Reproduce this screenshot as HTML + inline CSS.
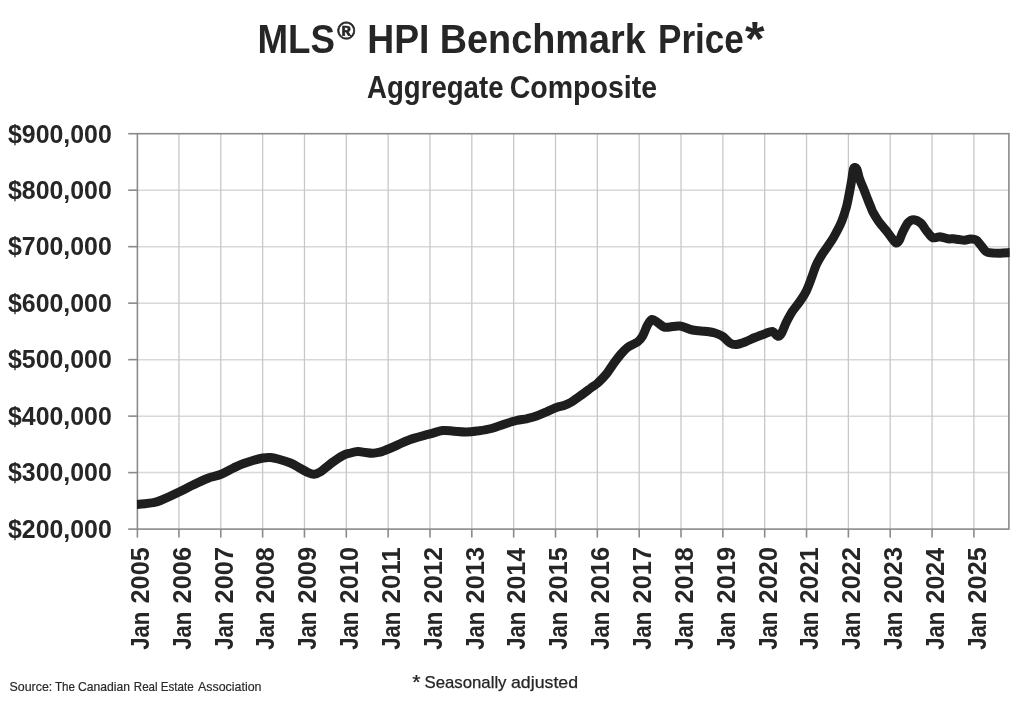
<!DOCTYPE html>
<html lang="en"><head><meta charset="utf-8"><title>MLS HPI Benchmark Price - Aggregate Composite</title>
<style>
html,body{margin:0;padding:0;background:#fff;}
body{width:1024px;height:701px;overflow:hidden;}
svg{display:block;}
text{font-family:"Liberation Sans", sans-serif;fill:#262626;}
.b{font-weight:700;}
</style></head><body>
<svg width="1024" height="701" viewBox="0 0 1024 701">
<rect width="1024" height="701" fill="#fff"/>
<g stroke="#d8d8d8" stroke-width="1.5"><line x1="137.4" y1="190.19" x2="1008.9" y2="190.19"/><line x1="137.4" y1="246.67" x2="1008.9" y2="246.67"/><line x1="137.4" y1="303.16" x2="1008.9" y2="303.16"/><line x1="137.4" y1="359.64" x2="1008.9" y2="359.64"/><line x1="137.4" y1="416.13" x2="1008.9" y2="416.13"/><line x1="137.4" y1="472.61" x2="1008.9" y2="472.61"/></g>
<g stroke="#c8c8c8" stroke-width="1.3"><line x1="178.94" y1="133.7" x2="178.94" y2="529.1"/><line x1="220.78" y1="133.7" x2="220.78" y2="529.1"/><line x1="262.62" y1="133.7" x2="262.62" y2="529.1"/><line x1="304.46" y1="133.7" x2="304.46" y2="529.1"/><line x1="346.30" y1="133.7" x2="346.30" y2="529.1"/><line x1="388.14" y1="133.7" x2="388.14" y2="529.1"/><line x1="429.98" y1="133.7" x2="429.98" y2="529.1"/><line x1="471.82" y1="133.7" x2="471.82" y2="529.1"/><line x1="513.66" y1="133.7" x2="513.66" y2="529.1"/><line x1="555.50" y1="133.7" x2="555.50" y2="529.1"/><line x1="597.34" y1="133.7" x2="597.34" y2="529.1"/><line x1="639.18" y1="133.7" x2="639.18" y2="529.1"/><line x1="681.02" y1="133.7" x2="681.02" y2="529.1"/><line x1="722.86" y1="133.7" x2="722.86" y2="529.1"/><line x1="764.70" y1="133.7" x2="764.70" y2="529.1"/><line x1="806.54" y1="133.7" x2="806.54" y2="529.1"/><line x1="848.38" y1="133.7" x2="848.38" y2="529.1"/><line x1="890.22" y1="133.7" x2="890.22" y2="529.1"/><line x1="932.06" y1="133.7" x2="932.06" y2="529.1"/><line x1="973.90" y1="133.7" x2="973.90" y2="529.1"/></g>
<g stroke="#8a8a8a" stroke-width="1.6"><rect x="137.4" y="133.7" width="871.50" height="395.40" fill="none"/><line x1="128.2" y1="133.70" x2="137.4" y2="133.70"/><line x1="128.2" y1="190.19" x2="137.4" y2="190.19"/><line x1="128.2" y1="246.67" x2="137.4" y2="246.67"/><line x1="128.2" y1="303.16" x2="137.4" y2="303.16"/><line x1="128.2" y1="359.64" x2="137.4" y2="359.64"/><line x1="128.2" y1="416.13" x2="137.4" y2="416.13"/><line x1="128.2" y1="472.61" x2="137.4" y2="472.61"/><line x1="128.2" y1="529.10" x2="137.4" y2="529.10"/><line x1="137.40" y1="529.1" x2="137.40" y2="537.6"/><line x1="178.94" y1="529.1" x2="178.94" y2="537.6"/><line x1="220.78" y1="529.1" x2="220.78" y2="537.6"/><line x1="262.62" y1="529.1" x2="262.62" y2="537.6"/><line x1="304.46" y1="529.1" x2="304.46" y2="537.6"/><line x1="346.30" y1="529.1" x2="346.30" y2="537.6"/><line x1="388.14" y1="529.1" x2="388.14" y2="537.6"/><line x1="429.98" y1="529.1" x2="429.98" y2="537.6"/><line x1="471.82" y1="529.1" x2="471.82" y2="537.6"/><line x1="513.66" y1="529.1" x2="513.66" y2="537.6"/><line x1="555.50" y1="529.1" x2="555.50" y2="537.6"/><line x1="597.34" y1="529.1" x2="597.34" y2="537.6"/><line x1="639.18" y1="529.1" x2="639.18" y2="537.6"/><line x1="681.02" y1="529.1" x2="681.02" y2="537.6"/><line x1="722.86" y1="529.1" x2="722.86" y2="537.6"/><line x1="764.70" y1="529.1" x2="764.70" y2="537.6"/><line x1="806.54" y1="529.1" x2="806.54" y2="537.6"/><line x1="848.38" y1="529.1" x2="848.38" y2="537.6"/><line x1="890.22" y1="529.1" x2="890.22" y2="537.6"/><line x1="932.06" y1="529.1" x2="932.06" y2="537.6"/><line x1="973.90" y1="529.1" x2="973.90" y2="537.6"/></g>
<clipPath id="c"><rect x="136.9" y="133.7" width="872.80" height="395.40"/></clipPath>
<path d="M136.5,504.5 C137.9,504.4 142.2,504.1 145.0,503.8 C147.8,503.5 150.4,503.2 153.0,502.7 C155.6,502.1 156.3,502.2 160.5,500.5 C164.7,498.8 172.6,495.1 178.0,492.5 C183.4,489.9 188.0,487.4 193.0,485.0 C198.0,482.6 203.4,480.0 208.0,478.2 C212.6,476.5 216.3,476.2 220.5,474.5 C224.7,472.8 229.2,470.0 233.0,468.2 C236.8,466.5 239.7,465.0 243.0,463.8 C246.3,462.5 249.7,461.5 253.0,460.5 C256.3,459.5 260.1,458.5 263.0,458.0 C265.9,457.5 268.0,457.3 270.5,457.5 C273.0,457.7 274.7,458.1 278.0,459.0 C281.3,459.9 287.2,461.7 290.5,463.0 C293.8,464.3 295.1,465.4 298.0,467.0 C300.9,468.6 305.3,471.3 308.0,472.5 C310.7,473.7 312.2,474.4 314.2,474.2 C316.3,474.1 317.4,473.8 320.5,471.8 C323.6,469.7 329.2,464.7 333.0,462.0 C336.8,459.3 340.1,457.0 343.0,455.5 C345.9,454.0 348.0,453.7 350.5,453.0 C353.0,452.3 355.5,451.6 358.0,451.5 C360.5,451.4 363.0,452.2 365.5,452.5 C368.0,452.8 370.5,453.3 373.0,453.2 C375.5,453.2 378.7,452.4 380.5,452.0 C382.3,451.6 381.3,451.8 384.0,450.8 C386.7,449.7 392.3,447.3 396.5,445.5 C400.7,443.7 403.6,441.9 409.0,440.0 C414.4,438.1 423.4,435.8 429.0,434.2 C434.6,432.7 438.6,431.0 442.8,430.5 C446.9,430.0 450.0,431.0 454.0,431.2 C458.0,431.5 462.3,432.1 466.5,432.0 C470.7,431.9 474.8,431.3 479.0,430.8 C483.2,430.2 487.3,429.6 491.5,428.5 C495.7,427.4 499.8,425.6 504.0,424.2 C508.2,422.9 512.8,421.4 516.5,420.5 C520.2,419.6 523.2,419.5 526.5,418.8 C529.8,418.0 533.2,417.2 536.5,416.0 C539.8,414.8 543.2,413.2 546.5,411.8 C549.8,410.3 553.6,408.5 556.5,407.5 C559.4,406.5 561.5,406.4 564.0,405.5 C566.5,404.6 568.6,403.8 571.5,402.0 C574.4,400.2 578.2,397.4 581.5,395.0 C584.8,392.6 588.8,389.5 591.5,387.5 C594.2,385.5 595.2,385.3 597.8,383.0 C600.2,380.7 603.8,377.1 606.5,373.8 C609.2,370.4 611.7,366.1 614.0,363.0 C616.3,359.9 618.0,357.6 620.2,355.0 C622.5,352.4 624.6,349.7 627.5,347.5 C630.4,345.3 635.0,343.9 637.5,342.0 C640.0,340.1 640.8,339.1 642.5,336.2 C644.2,333.4 645.9,327.8 647.5,325.0 C649.1,322.2 650.3,319.9 652.0,319.5 C653.7,319.1 655.5,321.2 657.5,322.5 C659.5,323.8 661.7,326.2 663.8,327.0 C665.8,327.8 667.3,327.2 670.0,327.0 C672.7,326.8 676.2,325.5 680.0,326.0 C683.8,326.5 688.3,329.1 692.5,330.0 C696.7,330.9 701.2,330.8 705.0,331.2 C708.8,331.8 712.1,332.2 715.0,333.0 C717.9,333.8 720.0,334.6 722.5,336.2 C725.0,337.9 727.7,341.6 730.0,343.0 C732.3,344.4 733.8,344.7 736.2,344.5 C738.8,344.3 741.9,343.2 745.0,342.0 C748.1,340.8 751.7,338.9 755.0,337.5 C758.3,336.1 762.1,334.8 765.0,333.8 C767.9,332.8 770.4,331.1 772.5,331.5 C774.6,331.9 776.0,335.9 777.5,336.2 C779.0,336.6 779.8,336.0 781.2,333.8 C782.7,331.5 784.4,326.2 786.2,322.5 C788.1,318.8 790.2,314.8 792.5,311.2 C794.8,307.7 797.7,304.6 800.0,301.2 C802.3,297.9 804.4,295.0 806.2,291.2 C808.1,287.5 809.6,283.1 811.2,278.8 C812.9,274.4 814.4,269.2 816.2,265.0 C818.1,260.8 820.0,257.7 822.5,253.8 C825.0,249.8 829.0,244.7 831.2,241.2 C833.5,237.8 834.3,236.3 836.0,233.0 C837.7,229.7 840.0,225.6 841.7,221.3 C843.4,217.0 845.1,211.8 846.4,207.1 C847.7,202.3 848.5,197.4 849.4,192.8 C850.3,188.2 851.1,183.5 851.8,179.5 C852.5,175.5 852.8,170.3 853.6,168.6 C854.4,166.8 855.8,167.3 856.8,169.0 C857.8,170.7 858.3,175.4 859.4,178.5 C860.5,181.6 862.1,185.2 863.1,187.6 C864.1,190.0 864.4,190.7 865.2,192.8 C866.0,194.9 867.1,197.8 868.0,200.2 C868.9,202.6 869.9,205.0 870.8,207.1 C871.7,209.2 871.9,210.3 873.2,212.7 C874.5,215.1 876.5,218.4 878.6,221.3 C880.7,224.2 883.5,227.3 885.6,229.9 C887.7,232.5 889.3,234.8 891.0,237.0 C892.7,239.2 894.6,242.5 896.0,243.0 C897.4,243.5 898.4,241.8 899.5,240.0 C900.6,238.2 901.1,235.3 902.6,232.4 C904.1,229.5 906.3,224.6 908.2,222.5 C910.1,220.4 911.8,219.6 913.9,219.7 C916.0,219.8 918.8,221.3 920.9,223.2 C923.0,225.1 924.7,228.6 926.6,231.0 C928.5,233.4 930.6,236.3 932.2,237.4 C933.9,238.5 935.1,237.5 936.5,237.4 C937.9,237.3 938.8,236.7 940.7,236.9 C942.6,237.1 945.7,238.5 947.8,238.8 C949.9,239.1 951.5,238.7 953.4,238.8 C955.3,238.9 957.1,239.3 959.0,239.5 C960.9,239.7 962.8,240.3 964.7,240.2 C966.6,240.1 968.5,239.1 970.4,239.0 C972.3,238.9 974.4,239.0 976.0,239.9 C977.6,240.8 978.6,242.5 980.2,244.4 C981.9,246.3 984.0,250.1 985.9,251.5 C987.8,252.9 989.1,252.6 991.5,252.9 C993.9,253.2 996.9,253.2 1000.0,253.2 C1003.1,253.1 1008.3,252.7 1010.0,252.6" fill="none" stroke="#1e1e1e" stroke-width="9" stroke-linejoin="round" stroke-linecap="butt" clip-path="url(#c)"/>
<text class="b" y="52.7" font-size="40.8"><tspan x="257.5" textLength="77.45" lengthAdjust="spacingAndGlyphs">MLS</tspan><tspan x="337.25" textLength="18.0" lengthAdjust="spacingAndGlyphs" y="39.15" font-size="24.5" stroke="#262626" stroke-width="0.7">®</tspan> <tspan x="367.25" textLength="62.16" lengthAdjust="spacingAndGlyphs" y="52.7">HPI</tspan> <tspan x="439.75" textLength="206.03" lengthAdjust="spacingAndGlyphs">Benchmark</tspan> <tspan x="658.0" textLength="85.9" lengthAdjust="spacingAndGlyphs">Price</tspan><tspan x="745.0" textLength="19.51" lengthAdjust="spacingAndGlyphs" y="54.5" font-size="47.46">*</tspan></text>
<text class="b" y="97.8" font-size="30.6"><tspan x="367.0" textLength="136.52" lengthAdjust="spacingAndGlyphs">Aggregate</tspan> <tspan x="509.75" textLength="147.29" lengthAdjust="spacingAndGlyphs">Composite</tspan></text>
<text class="b" y="142.50" font-size="25.6"><tspan x="8.0" textLength="103.77" lengthAdjust="spacingAndGlyphs">$900,000</tspan></text><text class="b" y="198.99" font-size="25.6"><tspan x="8.0" textLength="103.77" lengthAdjust="spacingAndGlyphs">$800,000</tspan></text><text class="b" y="255.47" font-size="25.6"><tspan x="8.0" textLength="103.77" lengthAdjust="spacingAndGlyphs">$700,000</tspan></text><text class="b" y="311.96" font-size="25.6"><tspan x="8.0" textLength="103.77" lengthAdjust="spacingAndGlyphs">$600,000</tspan></text><text class="b" y="368.44" font-size="25.6"><tspan x="8.0" textLength="103.77" lengthAdjust="spacingAndGlyphs">$500,000</tspan></text><text class="b" y="424.93" font-size="25.6"><tspan x="8.0" textLength="103.77" lengthAdjust="spacingAndGlyphs">$400,000</tspan></text><text class="b" y="481.41" font-size="25.6"><tspan x="8.0" textLength="103.77" lengthAdjust="spacingAndGlyphs">$300,000</tspan></text><text class="b" y="537.90" font-size="25.6"><tspan x="8.0" textLength="103.77" lengthAdjust="spacingAndGlyphs">$200,000</tspan></text>
<text class="b" font-size="25.6" transform="translate(149.20,650) rotate(-90)"><tspan x="0.25" textLength="38.09" lengthAdjust="spacingAndGlyphs">Jan</tspan> <tspan x="46.5" textLength="56.3" lengthAdjust="spacingAndGlyphs">2005</tspan></text><text class="b" font-size="25.6" transform="translate(190.74,650) rotate(-90)"><tspan x="0.25" textLength="38.09" lengthAdjust="spacingAndGlyphs">Jan</tspan> <tspan x="46.5" textLength="56.57" lengthAdjust="spacingAndGlyphs">2006</tspan></text><text class="b" font-size="25.6" transform="translate(232.58,650) rotate(-90)"><tspan x="0.25" textLength="38.09" lengthAdjust="spacingAndGlyphs">Jan</tspan> <tspan x="46.5" textLength="56.57" lengthAdjust="spacingAndGlyphs">2007</tspan></text><text class="b" font-size="25.6" transform="translate(274.42,650) rotate(-90)"><tspan x="0.25" textLength="38.09" lengthAdjust="spacingAndGlyphs">Jan</tspan> <tspan x="46.5" textLength="56.3" lengthAdjust="spacingAndGlyphs">2008</tspan></text><text class="b" font-size="25.6" transform="translate(316.26,650) rotate(-90)"><tspan x="0.25" textLength="38.09" lengthAdjust="spacingAndGlyphs">Jan</tspan> <tspan x="46.5" textLength="56.57" lengthAdjust="spacingAndGlyphs">2009</tspan></text><text class="b" font-size="25.6" transform="translate(358.10,650) rotate(-90)"><tspan x="0.25" textLength="38.09" lengthAdjust="spacingAndGlyphs">Jan</tspan> <tspan x="46.5" textLength="56.57" lengthAdjust="spacingAndGlyphs">2010</tspan></text><text class="b" font-size="25.6" transform="translate(399.94,650) rotate(-90)"><tspan x="0.25" textLength="38.09" lengthAdjust="spacingAndGlyphs">Jan</tspan> <tspan x="46.5" textLength="56.3" lengthAdjust="spacingAndGlyphs">2011</tspan></text><text class="b" font-size="25.6" transform="translate(441.78,650) rotate(-90)"><tspan x="0.25" textLength="38.09" lengthAdjust="spacingAndGlyphs">Jan</tspan> <tspan x="46.5" textLength="56.57" lengthAdjust="spacingAndGlyphs">2012</tspan></text><text class="b" font-size="25.6" transform="translate(483.62,650) rotate(-90)"><tspan x="0.25" textLength="38.09" lengthAdjust="spacingAndGlyphs">Jan</tspan> <tspan x="46.5" textLength="56.57" lengthAdjust="spacingAndGlyphs">2013</tspan></text><text class="b" font-size="25.6" transform="translate(525.46,650) rotate(-90)"><tspan x="0.25" textLength="38.09" lengthAdjust="spacingAndGlyphs">Jan</tspan> <tspan x="46.5" textLength="55.52" lengthAdjust="spacingAndGlyphs">2014</tspan></text><text class="b" font-size="25.6" transform="translate(567.30,650) rotate(-90)"><tspan x="0.25" textLength="38.09" lengthAdjust="spacingAndGlyphs">Jan</tspan> <tspan x="46.5" textLength="56.3" lengthAdjust="spacingAndGlyphs">2015</tspan></text><text class="b" font-size="25.6" transform="translate(609.14,650) rotate(-90)"><tspan x="0.25" textLength="38.09" lengthAdjust="spacingAndGlyphs">Jan</tspan> <tspan x="46.5" textLength="56.57" lengthAdjust="spacingAndGlyphs">2016</tspan></text><text class="b" font-size="25.6" transform="translate(650.98,650) rotate(-90)"><tspan x="0.25" textLength="38.09" lengthAdjust="spacingAndGlyphs">Jan</tspan> <tspan x="46.5" textLength="56.57" lengthAdjust="spacingAndGlyphs">2017</tspan></text><text class="b" font-size="25.6" transform="translate(692.82,650) rotate(-90)"><tspan x="0.25" textLength="38.09" lengthAdjust="spacingAndGlyphs">Jan</tspan> <tspan x="46.5" textLength="56.3" lengthAdjust="spacingAndGlyphs">2018</tspan></text><text class="b" font-size="25.6" transform="translate(734.66,650) rotate(-90)"><tspan x="0.25" textLength="38.09" lengthAdjust="spacingAndGlyphs">Jan</tspan> <tspan x="46.5" textLength="56.57" lengthAdjust="spacingAndGlyphs">2019</tspan></text><text class="b" font-size="25.6" transform="translate(776.50,650) rotate(-90)"><tspan x="0.25" textLength="38.09" lengthAdjust="spacingAndGlyphs">Jan</tspan> <tspan x="46.5" textLength="56.57" lengthAdjust="spacingAndGlyphs">2020</tspan></text><text class="b" font-size="25.6" transform="translate(818.34,650) rotate(-90)"><tspan x="0.25" textLength="38.09" lengthAdjust="spacingAndGlyphs">Jan</tspan> <tspan x="46.5" textLength="56.3" lengthAdjust="spacingAndGlyphs">2021</tspan></text><text class="b" font-size="25.6" transform="translate(860.18,650) rotate(-90)"><tspan x="0.25" textLength="38.09" lengthAdjust="spacingAndGlyphs">Jan</tspan> <tspan x="46.5" textLength="56.57" lengthAdjust="spacingAndGlyphs">2022</tspan></text><text class="b" font-size="25.6" transform="translate(902.02,650) rotate(-90)"><tspan x="0.25" textLength="38.09" lengthAdjust="spacingAndGlyphs">Jan</tspan> <tspan x="46.5" textLength="56.57" lengthAdjust="spacingAndGlyphs">2023</tspan></text><text class="b" font-size="25.6" transform="translate(943.86,650) rotate(-90)"><tspan x="0.25" textLength="38.09" lengthAdjust="spacingAndGlyphs">Jan</tspan> <tspan x="46.5" textLength="55.52" lengthAdjust="spacingAndGlyphs">2024</tspan></text><text class="b" font-size="25.6" transform="translate(985.70,650) rotate(-90)"><tspan x="0.25" textLength="38.09" lengthAdjust="spacingAndGlyphs">Jan</tspan> <tspan x="46.5" textLength="56.3" lengthAdjust="spacingAndGlyphs">2025</tspan></text>
<text class="r" y="690.8" font-size="13.2" fill="#333" stroke="#333" stroke-width="0.2"><tspan x="9.5" textLength="42.82" lengthAdjust="spacingAndGlyphs">Source:</tspan> <tspan x="55.0" textLength="20.04" lengthAdjust="spacingAndGlyphs">The</tspan> <tspan x="78.0" textLength="52.04" lengthAdjust="spacingAndGlyphs">Canadian</tspan> <tspan x="133.75" textLength="23.88" lengthAdjust="spacingAndGlyphs">Real</tspan> <tspan x="160.75" textLength="33.06" lengthAdjust="spacingAndGlyphs">Estate</tspan> <tspan x="198.0" textLength="63.51" lengthAdjust="spacingAndGlyphs">Association</tspan></text>
<text class="r" y="688" font-size="17" fill="#1c1c1c" stroke="#1c1c1c" stroke-width="0.25"><tspan x="412.25" textLength="8.34" lengthAdjust="spacingAndGlyphs" y="688.9" font-size="20.66">*</tspan> <tspan x="424.5" textLength="82.01" lengthAdjust="spacingAndGlyphs" y="688">Seasonally</tspan> <tspan x="511.0" textLength="67.06" lengthAdjust="spacingAndGlyphs">adjusted</tspan></text>
</svg>
</body></html>
